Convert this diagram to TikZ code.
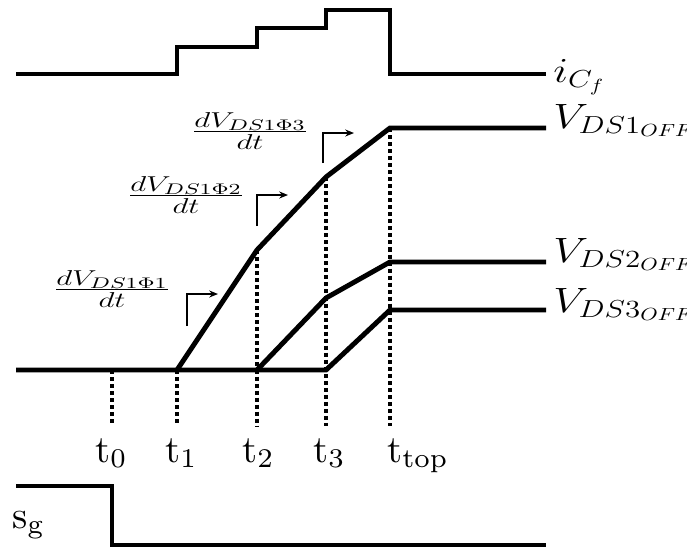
\RequirePackage{fix-cm}
\documentclass[tikz,border=0pt]{standalone}
\usetikzlibrary{arrows.meta, positioning}
\newcommand{\tsub}[2]{\scalebox{2.2}{#1\raisebox{-1.3pt}{\scriptsize #2}}}
\newcommand{\wide}[2]{\scalebox{#1}[1]{#2}}
\tikzset{
  wave/.style={line width=2.8pt, black},
  guide/.style={line width=2.3pt, dash pattern=on 2.3pt off 1.7pt},
  slope/.style={-{Stealth[length=5pt,width=4pt]}, line width=0.8pt},
  tlab/.style={anchor=base west, inner sep=0pt, font=\rmfamily\normalsize},
  vlab/.style={anchor=base west, inner sep=0pt, font=\fontsize{20}{24}\selectfont},
  dlab/.style={inner sep=0pt, font=\fontsize{17.5}{21}\selectfont},
}

\begin{document}
\begin{tikzpicture}[x=0.02cm, y=-0.02cm]
  \useasboundingbox (0,0) rectangle (687,549);

  %% Time instants
  \coordinate (t0) at (112,370);
  \coordinate (t1) at (177,370);
  \coordinate (t2) at (257,370);
  \coordinate (t3) at (326,370);
  \coordinate (ttop) at (390,370);

  %% Capacitor current i_Cf
  \draw[wave] (16,74) -| (177,47) -| (257,28) -| (326,10) -| (390,74) -- (546,74);
  \node[vlab] (icf) at (553,82) {\wide{1.26}{$i_{C_f}$}};

  %% Drain-source voltages
  \coordinate (v1a) at (257,250);
  \coordinate (v1b) at (326,177);
  \coordinate (v1c) at (390,128);
  \coordinate (v2a) at (326,298);
  \coordinate (v2b) at (390,262);
  \coordinate (v3a) at (390,310);

  \draw[wave] (16,370) -- (t3) -- (v3a) -- (546,310);
  \draw[wave] (t1) -- (v1a) -- (v1b) -- (v1c) -- (546,128);
  \draw[wave] (t2) -- (v2a) -- (v2b) -- (546,262);

  \node[vlab] (vds1) at (553,128) {\wide{1.26}{$V_{DS1_{OFF}}$}};
  \node[vlab] (vds2) at (553,262) {\wide{1.26}{$V_{DS2_{OFF}}$}};
  \node[vlab] (vds3) at (553,312) {\wide{1.26}{$V_{DS3_{OFF}}$}};

  %% Dotted guides down to the time axis
  \draw[guide] (t0) -- ++(0,56);
  \draw[guide] (t1) -- ++(0,56);
  \draw[guide] (v1a) -- (257,426);
  \draw[guide] (v1b) -- (326,426);
  \draw[guide] (v1c) -- (390,426);

  \node[tlab] (lt0) at (95,462) {\tsub{t}{0}};
  \node[tlab] (lt1) at (165,462) {\tsub{t}{1}};
  \node[tlab] (lt2) at (242,462) {\tsub{t}{2}};
  \node[tlab] (lt3) at (313,462) {\tsub{t}{3}};
  \node[tlab] (ltop) at (387,462) {\tsub{t}{top}};

  %% Slopes of each phase
  \node[dlab] (d1) at (112,289) {\wide{1.45}{$\frac{dV_{DS1\Phi1}}{dt}$}};
  \node[dlab] (d2) at (186,195) {\wide{1.45}{$\frac{dV_{DS1\Phi2}}{dt}$}};
  \node[dlab] (d3) at (250,131) {\wide{1.45}{$\frac{dV_{DS1\Phi3}}{dt}$}};

  \draw[slope] (187,326) |- (218,294);
  \draw[slope] (257,226) |- (288,195);
  \draw[slope] (323,163) |- (354,133);

  %% Gate signal
  \draw[wave] (16,486) -| (112,545) -- (546,545);
  \node[tlab] (sg) at (12,528) {\tsub{s}{g}};

\end{tikzpicture}
\end{document}
